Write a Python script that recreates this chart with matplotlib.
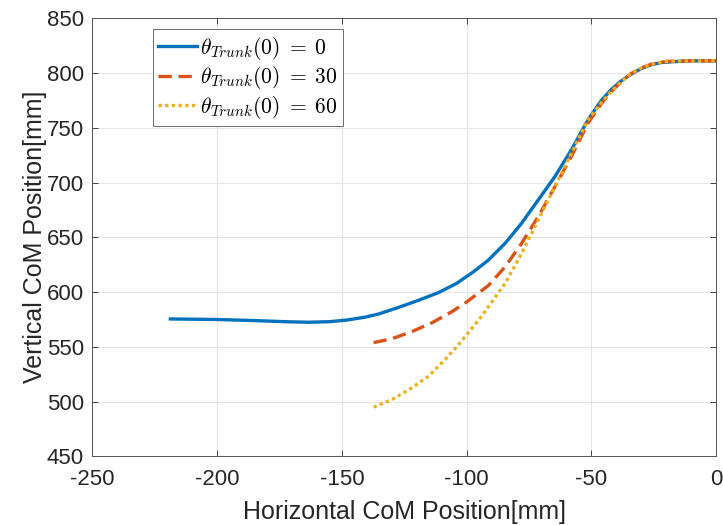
import matplotlib
matplotlib.use("Agg")
import matplotlib.pyplot as plt

plt.rcParams['font.family'] = ['Liberation Sans', 'DejaVu Sans']
plt.rcParams['mathtext.fontset'] = 'cm'
plt.rcParams['axes.unicode_minus'] = False

# CoM trajectories for the three initial trunk angles
x_0 = [-218.7, -200, -185, -170, -163, -155, -148, -141, -135.3, -127.3, -119.3, -111.3, -104,
       -97, -91.3, -84.6, -78, -71.3, -64.6, -58, -51.3, -46, -42, -38.5, -34, -30, -26, -22, -12, 0]
y_0 = [575.5, 575, 574, 572.8, 572.5, 573, 574.5, 577, 580, 586, 592.5, 599.5, 608,
       619, 629.2, 644.5, 662.8, 684.2, 705.6, 730, 757.6, 775, 785, 792, 799, 804, 807.5, 809.5, 811, 811]

x_30 = [-137.3, -129.9, -121.9, -113.9, -106, -100, -91.3, -84.6, -78, -71.3, -64.6, -58,
        -51.3, -46, -42.5, -38, -34.4, -30, -26, -20, -10, 0]
y_30 = [553.9, 557.5, 564, 572, 582, 591, 606, 623, 644.5, 669, 696.4, 724,
        754.6, 772, 782, 792, 799, 804.5, 808, 810.5, 811, 811]

x_60 = [-137.3, -129.9, -121.9, -115.3, -108.6, -103.3, -100, -94, -84.6, -78, -71.3, -64.6,
        -58, -51.3, -46, -42.5, -38, -34.4, -30, -26, -20, -10, 0]
y_60 = [495, 502, 512.7, 523.3, 538.5, 552, 561, 578, 608, 635.3, 665.9, 696.4,
        727, 757.6, 773, 782, 792, 799, 804.5, 808, 810.5, 811, 811]

labels = [r'$\theta_{Trunk}(0)\;=\;0$', r'$\theta_{Trunk}(0)\;=\;30$', r'$\theta_{Trunk}(0)\;=\;60$']
colors = ['#0072BD', '#D95319', '#EDB120']

fig = plt.figure(figsize=(7.23, 5.25), dpi=100)
ax = fig.add_axes([0.1276, 0.1305, 0.8631, 0.835])

ax.plot(x_0, y_0, color=colors[0], lw=2.4, ls='-', label=labels[0])
ax.plot(x_30, y_30, color=colors[1], lw=2.4, ls=(0, (4, 2)), label=labels[1])
ax.plot(x_60, y_60, color=colors[2], lw=2.4, ls=(0, (1, 1)), label=labels[2])

ax.set_xlim(-250, 0)
ax.set_ylim(450, 850)
ax.set_xticks(range(-250, 1, 50))
ax.set_yticks(range(450, 851, 50))
ax.grid(True, color='#e6e6e6', lw=0.8)
ax.set_axisbelow(True)
ax.tick_params(direction='in', labelsize=16, colors='#262626', length=4, width=0.6,
               top=True, right=True)
ax.tick_params(axis='x', pad=9)
ax.tick_params(axis='y', pad=6)
for s in ax.spines.values():
    s.set_color('#555555')
    s.set_linewidth(0.7)

ax.set_xlabel('Horizontal CoM Position[mm]', fontsize=18, color='#262626', labelpad=7)
ax.set_ylabel('Vertical CoM Position[mm]', fontsize=18, color='#262626', labelpad=0)

leg = ax.legend(loc='upper left', bbox_to_anchor=(0.097, 0.9745), fontsize=15.5, handlelength=1.8,
                handletextpad=0.15, borderpad=0.25, labelspacing=0.12, fancybox=False,
                framealpha=1, edgecolor='#555555', borderaxespad=0)
leg.get_frame().set_linewidth(0.6)

fig.savefig('out.png', dpi=100)
